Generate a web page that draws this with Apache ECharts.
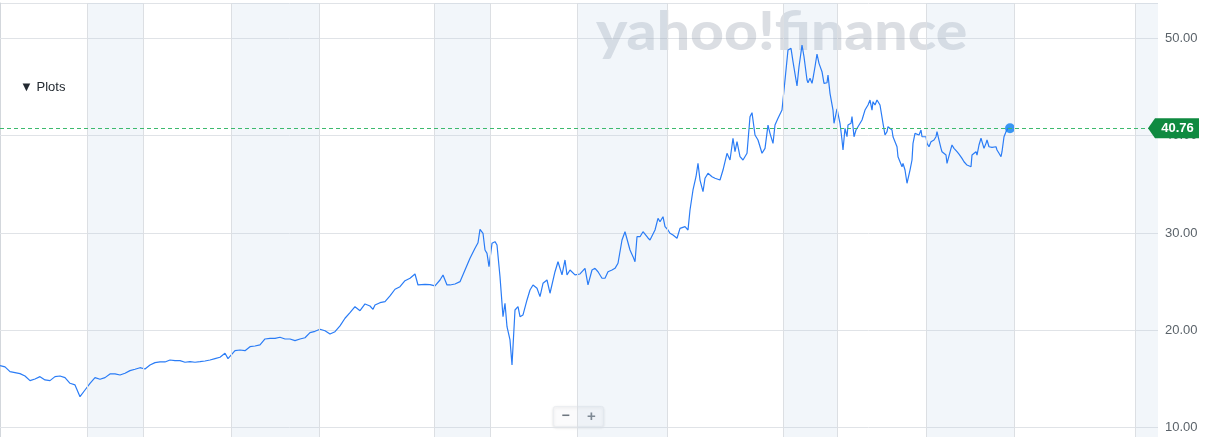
<!DOCTYPE html>
<html>
<head>
<meta charset="utf-8">
<script src="https://cdn.jsdelivr.net/npm/echarts@6/dist/echarts.min.js"></script>
<style>
  html, body { margin: 0; padding: 0; background: #fff; }
  #chart { width: 1223px; height: 437px; }
</style>
</head>
<body>
<div id="chart"></div>
<script>
  // trading day offsets (x) and closing prices
  const day = [
    0, 5, 10, 15, 20, 25, 30, 32, 35, 40, 45, 50, 55, 60, 65, 70, 75, 80, 85, 90,
    95, 100, 105, 110, 115, 120, 125, 130, 135, 140, 145, 150, 155, 160, 165, 170, 175, 180, 185, 190,
    195, 200, 205, 210, 215, 220, 225, 228, 230, 235, 240, 245, 250, 255, 260, 265, 270, 275, 280, 285,
    290, 295, 300, 305, 310, 315, 320, 325, 330, 335, 340, 345, 350, 355, 360, 365, 370, 373, 375, 380,
    385, 390, 395, 400, 405, 410, 415, 418, 420, 425, 430, 435, 440, 443, 447, 450, 455, 460, 465, 470,
    475, 478, 480, 483, 485, 487, 489, 492, 495, 497, 500, 503, 505, 507, 510, 512, 515, 518, 520, 523,
    527, 530, 533, 537, 540, 543, 547, 550, 555, 558, 562, 565, 567, 570, 575, 580, 585, 588, 592, 595,
    598, 602, 605, 608, 612, 615, 618, 622, 625, 627, 630, 633, 635, 637, 640, 643, 645, 648, 650, 655,
    658, 660, 663, 665, 668, 670, 673, 677, 680, 685, 688, 690, 693, 696, 698, 700, 703, 705, 708, 712,
    715, 720, 723, 725, 727, 730, 733, 735, 737, 740, 743, 747, 750, 752, 755, 758, 762, 765, 768, 770,
    773, 775, 778, 782, 785, 788, 791, 793, 797, 799, 802, 804, 807, 808, 810, 812, 813, 815, 817, 819,
    822, 824, 827, 828, 830, 833, 834, 837, 838, 840, 842, 843, 845, 847, 848, 851, 852, 854, 856, 858,
    860, 862, 863, 865, 867, 868, 870, 872, 873, 875, 877, 878, 880, 882, 883, 885, 887, 888, 890, 892,
    893, 895, 897, 898, 900, 902, 903, 905, 907, 908, 910, 912, 913, 915, 917, 919, 921, 922, 924, 926,
    927, 929, 931, 932, 934, 936, 937, 939, 941, 942, 944, 946, 947, 949, 951, 952, 954, 956, 957, 959,
    961, 962, 964, 966, 967, 969, 971, 972, 974, 976, 977, 979, 981, 982, 984, 986, 987, 989, 991, 992,
    994, 996, 997, 999, 1001, 1002, 1004, 1006, 1008, 1010
  ];
  const price = [
    16.37, 16.24, 15.75, 15.65, 15.55, 15.31, 14.83, 14.66, 15.00, 15.24, 14.90, 14.83, 15.24, 15.31, 15.14, 14.56, 14.39, 13.18, 13.87, 14.56,
    15.14, 14.97, 15.14, 15.52, 15.52, 15.41, 15.59, 15.86, 16.00, 16.16, 16.03, 16.44, 16.68, 16.75, 16.75, 16.95, 16.88, 16.88, 16.72, 16.78,
    16.72, 16.78, 16.85, 16.95, 17.09, 17.23, 17.64, 17.09, 17.23, 17.91, 17.98, 17.91, 18.32, 18.39, 18.50, 19.11, 19.18, 19.18, 19.29, 19.11,
    19.11, 18.94, 19.11, 19.24, 19.76, 19.90, 20.11, 19.96, 19.63, 19.86, 20.45, 21.24, 21.81, 22.43, 22.02, 22.71, 22.50, 22.16, 22.60, 22.84,
    22.94, 23.53, 24.22, 24.48, 25.10, 25.35, 25.79, 24.66, 24.66, 24.73, 24.70, 24.56, 25.17, 25.69, 24.66, 24.66, 24.76, 25.00, 26.20, 27.40,
    28.43, 29.00, 30.38, 29.97, 28.25, 27.91, 26.54, 28.94, 29.11, 28.77, 25.51, 21.40, 22.78, 20.37, 19.01, 16.44, 22.09, 22.43, 21.40, 21.58,
    23.12, 24.14, 24.66, 24.32, 23.46, 24.83, 25.17, 23.81, 26.02, 27.05, 25.69, 27.23, 25.69, 26.20, 25.69, 25.79, 26.37, 24.66, 26.20, 26.37,
    26.02, 25.35, 25.35, 26.02, 26.20, 26.37, 26.89, 29.28, 30.13, 29.97, 28.25, 27.57, 27.05, 29.62, 29.62, 30.13, 30.31, 29.49, 29.28, 30.31,
    31.51, 31.16, 31.67, 30.65, 30.31, 29.97, 29.79, 29.46, 30.48, 30.65, 30.31, 32.36, 34.42, 35.78, 37.16, 35.44, 34.24, 35.62, 36.13, 35.78,
    35.62, 35.44, 36.47, 36.30, 38.19, 37.50, 39.73, 38.35, 39.38, 37.84, 37.50, 38.19, 41.95, 42.36, 40.07, 39.55, 38.19, 38.70, 41.09, 40.24,
    39.21, 41.09, 41.78, 42.63, 45.72, 48.80, 48.97, 47.60, 45.10, 47.08, 49.31, 48.11, 45.72, 45.44, 45.89, 45.38, 45.89, 47.08, 48.39, 47.43,
    46.57, 45.38, 45.44, 46.23, 44.35, 42.63, 41.27, 42.74, 42.63, 41.27, 39.55, 38.53, 40.75, 39.89, 41.09, 41.27, 41.95, 39.89, 40.58, 40.92,
    40.75, 41.61, 41.78, 42.63, 42.46, 43.15, 43.66, 42.63, 43.49, 43.15, 43.66, 43.66, 43.15, 42.97, 41.27, 40.07, 40.41, 40.92, 41.09, 40.58,
    39.89, 39.38, 38.86, 37.84, 37.67, 36.81, 37.16, 36.47, 35.11, 34.93, 36.47, 37.50, 39.21, 40.24, 40.41, 40.07, 40.58, 39.89, 39.73, 39.89,
    39.21, 38.86, 39.38, 39.21, 39.55, 39.89, 40.41, 39.55, 38.70, 38.35, 38.19, 38.01, 37.16, 37.32, 38.70, 39.04, 38.70, 38.70, 38.35, 38.11,
    38.01, 37.67, 37.32, 37.16, 36.98, 36.81, 36.81, 38.01, 38.19, 38.35, 38.01, 39.04, 39.73, 39.38, 38.70, 39.21, 39.55, 38.86, 39.04, 38.80,
    38.70, 38.86, 38.53, 38.19, 37.84, 38.35, 39.89, 40.41, 40.75, 40.76
  ];
  // shaded periods (in the same day units) and axis ticks
  const shadedPeriods = [[87, 143], [231, 319], [434, 490], [577, 667], [783, 837], [926, 1014], [1135, 1158]];
  const dayMax = 1158;
  const yTicks = [10, 20, 30, 40, 50];
  const yMin = 9.04;
  const yMax = 53.63;

  const lastDay = day[day.length - 1];
  const lastPrice = price[price.length - 1];
  const dividers = [];
  shadedPeriods.forEach(function (p) {
    if (p[0] < dayMax) dividers.push(p[0]);
    if (p[1] < dayMax) dividers.push(p[1]);
  });

  const chart = echarts.init(document.getElementById("chart"), null, { renderer: "canvas" });

  const option = {
    animation: false,
    grid: {
      left: 0,
      right: 65,
      top: 3,
      bottom: 0,
    },
    xAxis: {
      type: "value",
      min: 0,
      max: dayMax,
      show: false,
    },
    yAxis: {
      type: "value",
      position: "right",
      min: yMin,
      max: yMax,
      minInterval: 10,
      maxInterval: 10,
      axisLine: { show: true, lineStyle: { color: "#d3d7dc" } },
      axisTick: { show: true, length: 5, lineStyle: { color: "#e0e3e7" } },
      splitLine: { lineStyle: { color: "#e0e3e7" } },
      axisLabel: {
        margin: 7,
        color: "#5b636a",
        fontSize: 13,
        fontFamily: "Liberation Sans",
        showMinLabel: false,
        showMaxLabel: false,
        formatter: function (v) {
          return yTicks.indexOf(Math.round(v * 100) / 100) >= 0 ? v.toFixed(2) : "";
        },
      },
    },
    series: [
      {
        type: "line",
        data: day.map(function (d, i) { return [d, price[i]]; }),
        showSymbol: false,
        lineStyle: { color: "#2a7cf6", width: 1.2 },
        z: 3,
        markArea: {
          silent: true,
          itemStyle: { color: "rgba(190,210,230,0.2)" },
          data: shadedPeriods.map(function (p) { return [{ xAxis: p[0] }, { xAxis: p[1] }]; }),
        },
        markLine: {
          silent: true,
          symbol: "none",
          label: { show: false },
          data: dividers.map(function (d) {
            return { xAxis: d, lineStyle: { color: "#dcdfe3", type: "solid", width: 1 } };
          }).concat([
            { yAxis: lastPrice, lineStyle: { color: "#3dba6e", type: [4, 3], width: 1 } },
          ]),
        },
      },
      {
        type: "scatter",
        data: [[lastDay, lastPrice]],
        symbolSize: 10,
        itemStyle: { color: "#0b7ff2" },
        clip: false,
        z: 4,
        markPoint: {
          silent: true,
          symbol: "path://M0,10 L7,0 L51,0 L51,20 L7,20 Z",
          symbolSize: [51, 20],
          symbolOffset: [15.5, 0],
          itemStyle: { color: "#0f8a40" },
          label: {
            show: true,
            position: "inside",
            offset: [4, 0],
            color: "#ffffff",
            fontSize: 13,
            fontWeight: "bold",
            fontFamily: "Liberation Sans",
            overflow: "none",
            formatter: lastPrice.toFixed(2),
          },
          data: [{ coord: [dayMax, lastPrice] }],
        },
      },
    ],
    graphic: [
      {
        type: "text",
        id: "watermark",
        left: 596,
        top: 6,
        scaleX: 1.11,
        z: 1,
        silent: true,
        style: {
          text: "yahoo!finance",
          fontSize: 53,
          fontWeight: 900,
          fontFamily: "Lato",
          fill: "rgba(150,158,172,0.34)",
        },
      },
      {
        type: "text",
        id: "plots",
        left: 20,
        top: 81,
        style: {
          text: "\u25BC Plots",
          fontSize: 13,
          fontFamily: "Liberation Sans",
          fill: "#232a31",
        },
      },
      {
        type: "group",
        id: "zoomButtons",
        left: 553,
        top: 406,
        children: [
          {
            type: "rect",
            shape: { x: 0, y: 0, width: 50, height: 20, r: 2 },
            style: {
              fill: "#fbfbfc",
              stroke: "#eceef1",
              shadowBlur: 3,
              shadowColor: "rgba(0,0,0,0.12)",
              shadowOffsetY: 1,
            },
          },
          {
            type: "text",
            x: 12,
            y: 10,
            style: { text: "\u2212", fontSize: 14, fontWeight: "bold", fontFamily: "Liberation Sans", fill: "#6e7780", align: "center", verticalAlign: "middle" },
          },
          {
            type: "text",
            x: 38,
            y: 10,
            style: { text: "+", fontSize: 15, fontWeight: "bold", fontFamily: "Liberation Sans", fill: "#6e7780", align: "center", verticalAlign: "middle" },
          },
        ],
      },
    ],
  };

  chart.setOption(option);
</script>
</body>
</html>
